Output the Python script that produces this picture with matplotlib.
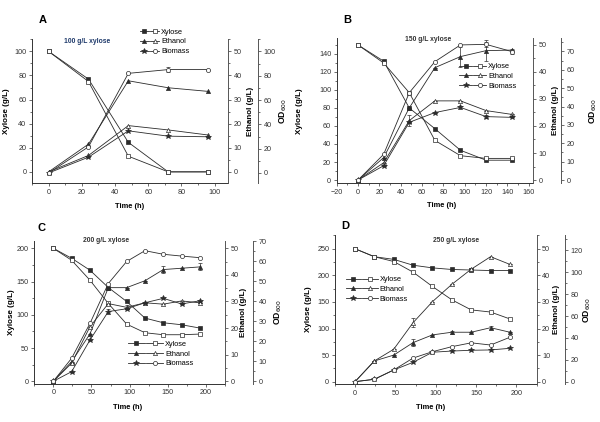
import numpy as np
import matplotlib
matplotlib.use("Agg")
import matplotlib.pyplot as plt
from matplotlib.ticker import MultipleLocator, AutoMinorLocator
from matplotlib.legend_handler import HandlerTuple
from matplotlib.lines import Line2D

plt.rcParams['font.family'] = ['Liberation Sans', 'DejaVu Sans']
plt.rcParams['font.size'] = 5

# --- A: 100 g/L xylose
t_a = [0, 24, 48, 72, 96]
xyl_fill_a = [100, 77, 24.5, 0, 0]
xyl_open_a = [100, 75, 13, 0, 0]
eth_fill_a = [0, 11.5, 37.8, 34.9, 33.4]
eth_open_a = [0, 6.8, 19.2, 17.4, 15.3]
od_fill_a = [0, 13, 34.7, 30.3, 29.8]
od_open_a = [0, 21.5, 82, 85.1, 85.1]
od_open_a_err = [0, 0, 0, 2, 0]

# --- B: 150 g/L xylose
t_b = [0, 24, 48, 72, 96, 120, 144]
xyl_fill_b = [150, 132, 80, 57, 33, 22, 22]
xyl_open_b = [150, 130, 97, 44, 27, 24, 24]
eth_fill_b = [0, 8.3, 26.7, 41.6, 45.7, 47.9, 48.1]
eth_fill_b_err = [0, 0, 0, 0, 3.7, 3.8, 0]
eth_open_b = [0, 6.4, 22, 29.3, 29.3, 25.7, 24.3]
eth_open_b_err = [0, 0, 2, 0, 0, 0, 0]
od_fill_b = [0, 7.8, 31.4, 36.7, 39.5, 34.5, 34.1]
od_fill_b_err = [0, 0, 0, 0, 1, 1, 0]
od_open_b = [0, 14, 47.5, 64.4, 73.5, 73.8, 69.9]
od_open_b_err = [0, 0, 0, 0, 0, 1.2, 1.5]

# --- C: 200 g/L xylose
t_c = [0, 24, 48, 72, 96, 120, 144, 168, 192]
xyl_fill_c = [200, 185, 167, 141, 120, 95, 88, 85, 80]
xyl_open_c = [200, 182, 152, 117, 86, 73, 70, 70, 71]
eth_fill_c = [0, 7.4, 17.8, 35.2, 35.2, 37.8, 42, 42.5, 43]
eth_fill_c_err = [0, 0, 0, 0, 0, 0, 1.3, 0, 1.3]
eth_open_c = [0, 6.8, 20.5, 29.2, 27.8, 29.5, 29, 30.2, 29.5]
eth_open_c_err = [0, 0, 0, 0, 0.8, 0, 0, 0, 0]
od_fill_c = [0, 4.8, 20.6, 34.8, 36.2, 39.2, 41.4, 38.6, 40.2]
od_fill_c_err = [0, 0, 0, 1.4, 0, 0, 0, 0, 0]
od_open_c = [0, 11.5, 28.9, 48.8, 59.8, 65.2, 63.4, 62.5, 61.7]

# --- D: 250 g/L xylose
t_d = [0, 24, 48, 72, 96, 120, 144, 168, 192]
xyl_fill_d = [250, 235, 230, 219, 214, 211, 210, 209, 209]
xyl_open_d = [250, 235, 226, 206, 179, 154, 135, 131, 118]
eth_fill_d = [0, 7.8, 10.0, 14.7, 17.6, 18.6, 18.6, 20.3, 18.6]
eth_fill_d_err = [0, 0, 0, 1.3, 0, 0.5, 0, 0.5, 0]
eth_open_d = [0, 7.8, 12.2, 22.2, 30.1, 36.6, 42.3, 47.0, 44.1]
eth_open_d_err = [0, 0, 0, 1.6, 0, 0, 0.4, 0, 0]
od_fill_d = [0, 2.2, 10.7, 17.7, 26.9, 28.0, 28.7, 29.0, 30.5]
od_open_d = [0, 2.2, 10.7, 21.6, 27.4, 32.0, 35.5, 33.5, 40.6]

LINE = '#2b2b2b'
SPINE = '#555555'


def series(ax, t, y, marker, filled, yerr=None):
    ms = 4.2 if marker == '*' else 3.0
    ax.errorbar(t, y, yerr=yerr, color=LINE, lw=0.6, marker=marker, ms=ms,
                mfc=LINE if filled else 'white', mec=LINE, mew=0.5,
                elinewidth=0.5, capsize=1.2, capthick=0.5, clip_on=False)


def style_ticks(ax, major):
    ax.yaxis.set_major_locator(MultipleLocator(major))
    ax.yaxis.set_minor_locator(AutoMinorLocator(2))
    ax.tick_params(axis='y', which='major', direction='out', length=2.5, width=0.5,
                   labelsize=5.2, pad=1.5, colors='#333333')
    ax.tick_params(axis='y', which='minor', direction='out', length=1.5, width=0.4)


def panel(fig, rect, p):
    ax = fig.add_axes(rect)
    ax2 = ax.twinx()
    ax3 = ax.twinx()
    ax3.spines['right'].set_position(('axes', p['off']))
    for a in (ax, ax2, ax3):
        a.spines['top'].set_visible(False)
        a.patch.set_visible(False)
    ax.spines['right'].set_visible(False)
    for a in (ax2, ax3):
        a.spines['left'].set_visible(False)
        a.spines['bottom'].set_visible(False)
        a.spines['right'].set_color(SPINE)
        a.spines['right'].set_linewidth(0.7)
    for s in ('left', 'bottom'):
        ax.spines[s].set_linewidth(0.7)
        ax.spines[s].set_color('#333333')

    t = p['t']
    series(ax, t, p['xf'], 's', True)
    series(ax, t, p['xo'], 's', False)
    series(ax2, t, p['ef'], '^', True, p.get('ef_err'))
    series(ax2, t, p['eo'], '^', False, p.get('eo_err'))
    series(ax3, t, p['bf'], '*', True, p.get('bf_err'))
    series(ax3, t, p['bo'], 'o', False, p.get('bo_err'))

    ax.xaxis.set_major_locator(MultipleLocator(p['xstep']))
    ax.xaxis.set_minor_locator(AutoMinorLocator(2))
    ax.tick_params(axis='x', which='major', direction='out', length=2.5, width=0.5,
                   labelsize=5.2, pad=1.5, colors='#333333')
    ax.tick_params(axis='x', which='minor', direction='out', length=1.5, width=0.4)

    style_ticks(ax, p['ystep1'])
    style_ticks(ax2, 10)
    style_ticks(ax3, p['ystep3'])
    ax.set_xlim(*p['xlim'])
    ax.set_ylim(*p['ylim1'])
    ax2.set_ylim(*p['ylim2'])
    ax3.set_ylim(*p['ylim3'])

    ax.set_xlabel('Time (h)', fontsize=5.4, fontweight='bold')
    ax.xaxis.set_label_coords(p['xlab'][0], p['xlab'][1])
    ax.set_ylabel('Xylose (g/L)', fontsize=5.8, fontweight='bold')
    ax.yaxis.set_label_coords(p['ylab'][0], 0.5)
    ax2.set_ylabel('Ethanol (g/L)', fontsize=5.8, fontweight='bold')
    ax2.yaxis.set_label_coords(p['ylab'][1], 0.5)
    ax3.set_ylabel('OD$_{600}$', fontsize=6.2, fontweight='bold')
    ax3.yaxis.set_label_coords(p['ylab'][2], 0.5)

    ax.text(p['title'][0], p['title'][1], p['title'][2], transform=ax.transAxes,
            ha='center', va='center', fontsize=4.9, fontweight='bold',
            color=p['tcolor'])

    h = []
    for m, lab in (('s', 'Xylose'), ('^', 'Ethanol'), ('*', 'Biomass')):
        ms = 4.2 if m == '*' else 3.0
        f = Line2D([], [], color=LINE, lw=0.6, marker=m, ms=ms, mfc=LINE, mec=LINE, mew=0.5)
        o = Line2D([], [], color=LINE, lw=0.6, marker='o' if m == '*' else m, ms=3.0,
                   mfc='white', mec=LINE, mew=0.5)
        h.append(((f, o), lab))
    ax.legend([x[0] for x in h], [x[1] for x in h],
              handler_map={tuple: HandlerTuple(ndivide=None, pad=0.2)},
              loc='upper left', bbox_to_anchor=p['leg'], frameon=False,
              fontsize=5.3, handlelength=p['hlen'], handletextpad=0.3,
              labelspacing=0.35, borderpad=0, borderaxespad=0)
    return ax


fig = plt.figure(figsize=(6, 4.22), dpi=100)

panel(fig, [0.0533, 0.5656, 0.3267, 0.3412], dict(
    t=t_a, xf=xyl_fill_a, xo=xyl_open_a, ef=eth_fill_a, eo=eth_open_a,
    bf=od_fill_a, bo=od_open_a, bo_err=od_open_a_err,
    xlim=(-10, 108), xstep=20, ylim1=(-9.5, 110), ystep1=20,
    ylim2=(-4.75, 55), ylim3=(-8.5, 110), ystep3=20, off=1.153,
    xlab=(0.5, -0.14), ylab=(-0.112, 1.097, 1.25),
    title=(0.28, 0.985, '100 g/L xylose'), tcolor='#1f3a6b',
    leg=(0.55, 1.075), hlen=2.6))

panel(fig, [0.5612, 0.5664, 0.3272, 0.3424], dict(
    t=t_b, xf=xyl_fill_b, xo=xyl_open_b, ef=eth_fill_b, eo=eth_open_b,
    ef_err=eth_fill_b_err, eo_err=eth_open_b_err,
    bf=od_fill_b, bo=od_open_b, bf_err=od_fill_b_err, bo_err=od_open_b_err,
    xlim=(-20, 164), xstep=20, ylim1=(-3.3, 157.2), ystep1=20,
    ylim2=(-1.1, 52.4), ylim3=(-1.6, 77.0), ystep3=10, off=1.143,
    xlab=(0.534, -0.135), ylab=(-0.17, 1.095, 1.275),
    title=(0.465, 0.99, '150 g/L xylose'), tcolor='#333333',
    leg=(0.625, 0.83), hlen=3.6))

panel(fig, [0.057, 0.0908, 0.3183, 0.3382], dict(
    t=t_c, xf=xyl_fill_c, xo=xyl_open_c, ef=eth_fill_c, eo=eth_open_c,
    ef_err=eth_fill_c_err, eo_err=eth_open_c_err,
    bf=od_fill_c, bo=od_open_c, bf_err=od_fill_c_err,
    xlim=(-25, 225), xstep=50, ylim1=(-3.6, 211), ystep1=50,
    ylim2=(-0.9, 52.75), ylim3=(-1.2, 70.05), ystep3=10, off=1.147,
    xlab=(0.49, -0.14), ylab=(-0.10, 1.078, 1.25),
    title=(0.376, 1.0, '200 g/L xylose'), tcolor='#333333',
    leg=(0.49, 0.30), hlen=4.8))

panel(fig, [0.558, 0.0893, 0.3363, 0.3538], dict(
    t=t_d, xf=xyl_fill_d, xo=xyl_open_d, ef=eth_fill_d, eo=eth_open_d,
    ef_err=eth_fill_d_err, eo_err=eth_open_d_err,
    bf=od_fill_d, bo=od_open_d,
    xlim=(-25, 225), xstep=50, ylim1=(-4.9, 275.8), ystep1=50,
    ylim2=(-0.98, 55.15), ylim3=(-2.4, 134), ystep3=20, off=1.141,
    xlab=(0.475, -0.13), ylab=(-0.115, 1.081, 1.223),
    title=(0.6, 0.966, '250 g/L xylose'), tcolor='#333333',
    leg=(0.055, 0.725), hlen=4.3))

for x, y, s in ((0.072, 0.953, 'A'), (0.578, 0.953, 'B'),
                (0.0695, 0.4604, 'C'), (0.575, 0.4645, 'D')):
    fig.text(x, y, s, fontsize=8, fontweight='bold', ha='center', va='center')

fig.savefig('out.png', dpi=100)
